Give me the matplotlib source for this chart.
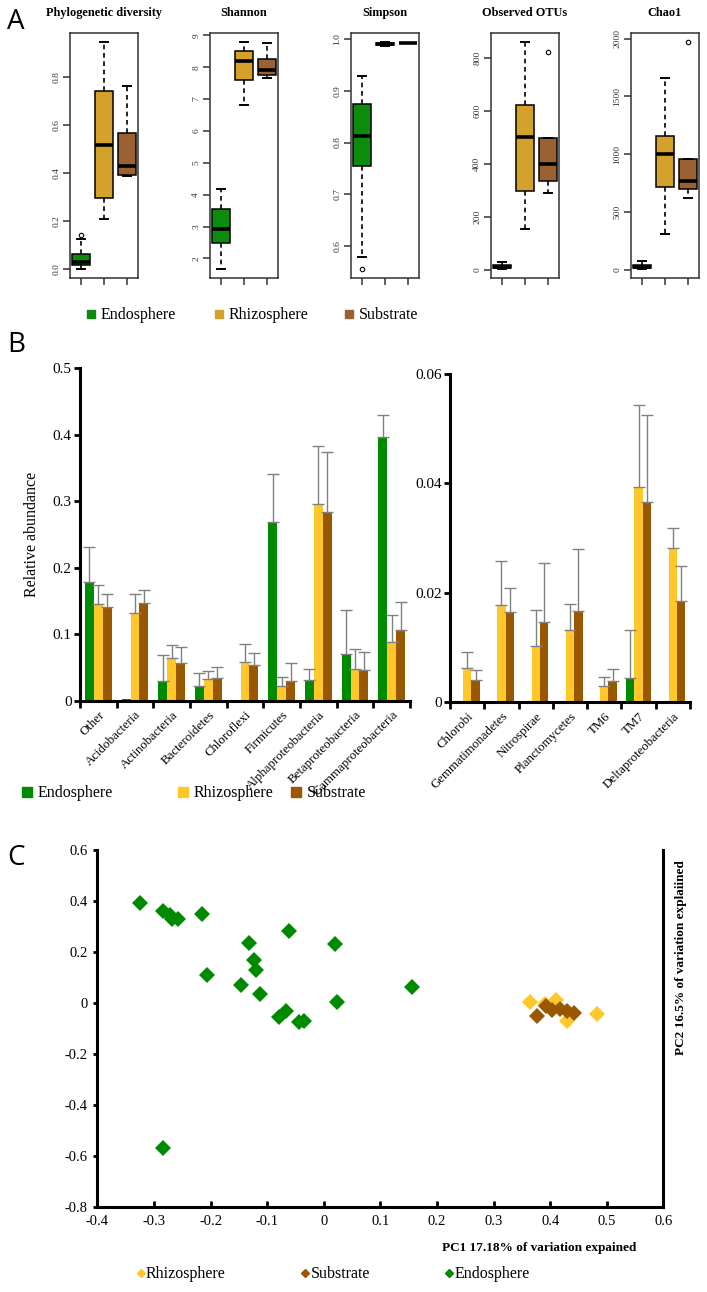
import numpy as np
import matplotlib
matplotlib.use("Agg")
import matplotlib.pyplot as plt
from matplotlib.lines import Line2D

W, H = 707, 1292
SERIF = ["Liberation Serif", "DejaVu Serif"]
SANS = ["Open Sans", "DejaVu Sans"]
plt.rcParams["font.family"] = SERIF

groups = ["Endosphere", "Rhizosphere", "Substrate"]

# ---- panel A : boxplot summaries (whisker low, Q1, median, Q3, whisker high)
alpha_titles = ["Phylogenetic diversity", "Shannon", "Simpson", "Observed OTUs", "Chao1"]
pd_stats = [(0.0, 0.015, 0.029, 0.061, 0.125), (0.207, 0.296, 0.519, 0.744, 0.947),
            (0.389, 0.393, 0.429, 0.566, 0.765)]
pd_out = [[0.14], [], []]
shannon_stats = [(1.67, 2.49, 2.91, 3.56, 4.19), (6.82, 7.61, 8.19, 8.50, 8.79),
                 (7.66, 7.75, 7.90, 8.25, 8.77)]
shannon_out = [[], [], []]
simpson_stats = [(0.579, 0.754, 0.812, 0.875, 0.929), (0.987, 0.989, 0.991, 0.993, 0.994),
                 (0.992, 0.992, 0.993, 0.993, 0.993)]
simpson_out = [[0.556], [], []]
otu_stats = [(3, 7, 12, 18, 28), (154, 296, 500, 620, 859), (291, 335, 400, 498, 498)]
otu_out = [[], [], [821]]
chao_stats = [(5, 12, 25, 40, 75), (306, 711, 1000, 1159, 1662), (624, 697, 763, 954, 954)]
chao_out = [[], [], [1971]]

alpha_ticks = [[0.0, 0.2, 0.4, 0.6, 0.8], [2, 3, 4, 5, 6, 7, 8, 9], [0.6, 0.7, 0.8, 0.9, 1.0],
               [0, 200, 400, 600, 800], [0, 500, 1000, 1500, 2000]]
alpha_ticklabels = [["0.0", "0.2", "0.4", "0.6", "0.8"], ["2", "3", "4", "5", "6", "7", "8", "9"],
                    ["0.6", "0.7", "0.8", "0.9", "1.0"], ["0", "200", "400", "600", "800"],
                    ["0", "500", "1000", "1500", "2000"]]

# ---- panel B : mean relative abundance and +SD
phyla_major = ["Other", "Acidobacteria", "Actinobacteria", "Bacteroidetes", "Chloroflexi",
               "Firmicutes", "Alphaproteobacteria", "Betaproteobacteria", "Gammaproteobacteria"]
endo_major = [0.178, 0.0025, 0.030, 0.022, 0.0, 0.269, 0.031, 0.070, 0.397]
endo_major_sd = [0.053, 0.0, 0.038, 0.020, 0.0, 0.072, 0.016, 0.066, 0.032]
rhizo_major = [0.145, 0.131, 0.064, 0.033, 0.058, 0.022, 0.296, 0.048, 0.088]
rhizo_major_sd = [0.029, 0.029, 0.020, 0.011, 0.027, 0.014, 0.087, 0.029, 0.040]
sub_major = [0.141, 0.146, 0.057, 0.034, 0.053, 0.029, 0.283, 0.046, 0.106]
sub_major_sd = [0.020, 0.021, 0.023, 0.017, 0.019, 0.027, 0.091, 0.027, 0.042]

phyla_minor = ["Chlorobi", "Gemmatimonadetes", "Nitrospirae", "Planctomycetes", "TM6", "TM7",
               "Deltaproteobacteria"]
endo_minor = [0.0, 0.0, 0.0, 0.0, 0.0, 0.0043, 0.0]
endo_minor_sd = [0.0, 0.0, 0.0, 0.0, 0.0, 0.0088, 0.0]
rhizo_minor = [0.0063, 0.0177, 0.0102, 0.0131, 0.0030, 0.0394, 0.0282]
rhizo_minor_sd = [0.0028, 0.0081, 0.0066, 0.0049, 0.0016, 0.0149, 0.0036]
sub_minor = [0.0040, 0.0164, 0.0147, 0.0166, 0.0038, 0.0365, 0.0185]
sub_minor_sd = [0.0019, 0.0045, 0.0108, 0.0113, 0.0023, 0.0159, 0.0064]

major_ticks = [0, 0.1, 0.2, 0.3, 0.4, 0.5]
major_ticklabels = ["0", "0.1", "0.2", "0.3", "0.4", "0.5"]
minor_ticks = [0, 0.02, 0.04, 0.06]
minor_ticklabels = ["0", "0.02", "0.04", "0.06"]

# ---- panel C : PCoA coordinates
rhizo_pc1 = [0.365, 0.390, 0.410, 0.430, 0.482]
rhizo_pc2 = [0.005, -0.004, 0.010, -0.072, -0.044]
sub_pc1 = [0.376, 0.392, 0.403, 0.418, 0.430, 0.442]
sub_pc2 = [-0.052, -0.014, -0.030, -0.026, -0.032, -0.040]
endo_pc1 = [-0.325, -0.284, -0.272, -0.268, -0.258, -0.216, -0.206, -0.133, -0.124, -0.120,
            -0.147, -0.113, -0.061, -0.079, -0.067, -0.044, -0.035, 0.020, 0.023, 0.155, -0.284]
endo_pc2 = [0.392, 0.361, 0.344, 0.327, 0.328, 0.348, 0.109, 0.235, 0.167, 0.128,
            0.069, 0.033, 0.281, -0.055, -0.031, -0.075, -0.073, 0.230, 0.004, 0.063, -0.567]
pc1_ticks = [-0.4, -0.3, -0.2, -0.1, 0, 0.1, 0.2, 0.3, 0.4, 0.5, 0.6]
pc1_ticklabels = ["-0.4", "-0.3", "-0.2", "-0.1", "0", "0.1", "0.2", "0.3", "0.4", "0.5", "0.6"]
pc2_ticks = [-0.8, -0.6, -0.4, -0.2, 0, 0.2, 0.4, 0.6]
pc2_ticklabels = ["-0.8", "-0.6", "-0.4", "-0.2", "0", "0.2", "0.4", "0.6"]

box_colors = ["#0c8c0c", "#d4a22a", "#9a6133"]
bar_colors = ["#008a00", "#ffc729", "#995800"]
pc_colors = {"Rhizosphere": "#ffc729", "Substrate": "#995800", "Endosphere": "#008a00"}

fig = plt.figure(figsize=(W / 100, H / 100), dpi=100)


def px_axes(x0, y0, x1, y1):
    return fig.add_axes([x0 / W, 1 - y1 / H, (x1 - x0) / W, (y1 - y0) / H])


def legend_row(y, xm, xt, labels, colors, marker, ms, fs):
    for a, b, lab, c in zip(xm, xt, labels, colors):
        fig.add_artist(Line2D([a / W], [1 - (y - 1) / H], marker=marker, ms=ms, color=c,
                              linestyle="none", transform=fig.transFigure))
        fig.text(b / W, 1 - y / H, lab, va="center", ha="left", fontsize=fs)


# ---------------- A
a_left = [70, 210, 351, 491, 631]
a_stats = [pd_stats, shannon_stats, simpson_stats, otu_stats, chao_stats]
a_out = [pd_out, shannon_out, simpson_out, otu_out, chao_out]
for i in range(5):
    ax = px_axes(a_left[i], 33, a_left[i] + 68, 278)
    st = [dict(whislo=s[0], q1=s[1], med=s[2], q3=s[3], whishi=s[4], fliers=f)
          for s, f in zip(a_stats[i], a_out[i])]
    res = ax.bxp(st, positions=[1, 2, 3], widths=0.78, capwidths=0.36, patch_artist=True,
                 manage_ticks=False,
                 boxprops=dict(edgecolor="black", linewidth=1.1),
                 whiskerprops=dict(color="black", linewidth=1.2, linestyle=(0, (2.8, 2.2))),
                 capprops=dict(color="black", linewidth=1.4),
                 medianprops=dict(color="black", linewidth=2.6),
                 flierprops=dict(marker="o", markersize=3.2, markerfacecolor="none",
                                 markeredgecolor="black", markeredgewidth=0.8))
    for patch, c in zip(res["boxes"], box_colors):
        patch.set_facecolor(c)
    vals = [v for s in a_stats[i] for v in s] + [v for f in a_out[i] for v in f]
    lo, hi = min(vals), max(vals)
    pad = 0.04 * (hi - lo)
    ax.set_ylim(lo - pad, hi + pad)
    ax.set_xlim(0.5, 3.5)
    ax.set_xticks([1, 2, 3])
    ax.set_xticklabels([])
    ax.set_yticks(alpha_ticks[i])
    ax.set_yticklabels(alpha_ticklabels[i], rotation=90, va="center", fontsize=6.8,
                       color="#333333")
    ax.tick_params(direction="out", length=5, width=1.1, color="#333333", pad=2)
    for sp in ax.spines.values():
        sp.set_linewidth(1.1)
        sp.set_color("#333333")
    ax.set_title(alpha_titles[i], fontsize=8.8, fontweight="bold", pad=12)

legend_row(315, [91, 219, 349], [101, 229, 359], groups, box_colors, "s", 6, 11.5)
fig.text(7 / W, 1 - 22 / H, "A", fontsize=20, family=SANS, va="center", ha="left")

# ---------------- B
def bar_panel(ax, cats, series, sds, ticks, ticklabels, top):
    x = np.arange(len(cats))
    bw = 0.245
    for k in range(3):
        xs = x + (k - 1) * bw
        v = np.array(series[k])
        e = np.array(sds[k])
        ax.bar(xs, v, width=bw, color=bar_colors[k], zorder=2)
        m = e > 0
        ax.errorbar(xs[m], v[m], yerr=[np.zeros(m.sum()), e[m]], fmt="none",
                    ecolor="#808080", elinewidth=1.0, capsize=4.5, capthick=1.0, zorder=3)
    ax.set_xlim(-0.5, len(cats) - 0.5)
    ax.set_ylim(0, top)
    ax.set_xticks(x)
    ax.set_xticklabels(cats, rotation=45, ha="right", va="top", rotation_mode="anchor",
                       fontsize=9.3)
    ax.set_xticks(np.arange(len(cats) + 1) - 0.5, minor=True)
    ax.tick_params(axis="x", which="major", length=0, pad=6)
    ax.tick_params(axis="x", which="minor", length=5, width=2, direction="out")
    ax.set_yticks(ticks)
    ax.set_yticklabels(ticklabels, fontsize=11)
    ax.tick_params(axis="y", length=4, width=2, direction="out", pad=2)
    for s in ["top", "right"]:
        ax.spines[s].set_visible(False)
    for s in ["left", "bottom"]:
        ax.spines[s].set_linewidth(2.2)


axb1 = px_axes(80, 368.3, 410, 700.5)
bar_panel(axb1, phyla_major, [endo_major, rhizo_major, sub_major],
          [endo_major_sd, rhizo_major_sd, sub_major_sd], major_ticks, major_ticklabels, 0.5)
axb1.set_ylabel("Relative abundance", fontsize=11.5)
axb1.yaxis.set_label_coords(-0.12, 0.5)

axb2 = px_axes(450, 373.9, 690, 702)
bar_panel(axb2, phyla_minor, [endo_minor, rhizo_minor, sub_minor],
          [endo_minor_sd, rhizo_minor_sd, sub_minor_sd], minor_ticks, minor_ticklabels, 0.06)

legend_row(793, [27, 183, 296], [38, 194, 307], groups, bar_colors, "s", 7, 11.5)
fig.text(7 / W, 1 - 345 / H, "B", fontsize=20, family=SANS, va="center", ha="left")

# ---------------- C
axc = px_axes(97.4, 849.7, 663.4, 1207)
axc.plot(rhizo_pc1, rhizo_pc2, "D", ms=7.8, color=pc_colors["Rhizosphere"], mew=0)
axc.plot(sub_pc1, sub_pc2, "D", ms=7.8, color=pc_colors["Substrate"], mew=0)
axc.plot(endo_pc1, endo_pc2, "D", ms=7.8, color=pc_colors["Endosphere"], mew=0)
axc.set_xlim(-0.4, 0.6)
axc.set_ylim(-0.8, 0.6)
axc.set_xticks(pc1_ticks)
axc.set_xticklabels(pc1_ticklabels, fontsize=10.5)
axc.set_yticks(pc2_ticks)
axc.set_yticklabels(pc2_ticklabels, fontsize=10.5)
axc.tick_params(axis="x", direction="in", length=4, width=2, pad=6)
axc.tick_params(axis="y", direction="out", length=3, width=2, pad=4)
axc.spines["top"].set_visible(False)
for s in ["left", "bottom", "right"]:
    axc.spines[s].set_linewidth(2.2)

fig.text(539 / W, 1 - 1248 / H, "PC1 17.18% of variation expained", ha="center", va="center",
         fontsize=9.5, fontweight="bold")
fig.text(681 / W, 1 - 958 / H, "PC2 16.5% of variation explaiined", ha="center", va="center",
         rotation=90, fontsize=9.5, fontweight="bold")
legend_row(1274, [141, 305, 449], [146, 311, 455], ["Rhizosphere", "Substrate", "Endosphere"],
           [pc_colors["Rhizosphere"], pc_colors["Substrate"], pc_colors["Endosphere"]],
           "D", 4, 11.5)
fig.text(7 / W, 1 - 858 / H, "C", fontsize=20, family=SANS, va="center", ha="left")

fig.savefig("out.png", dpi=100)
